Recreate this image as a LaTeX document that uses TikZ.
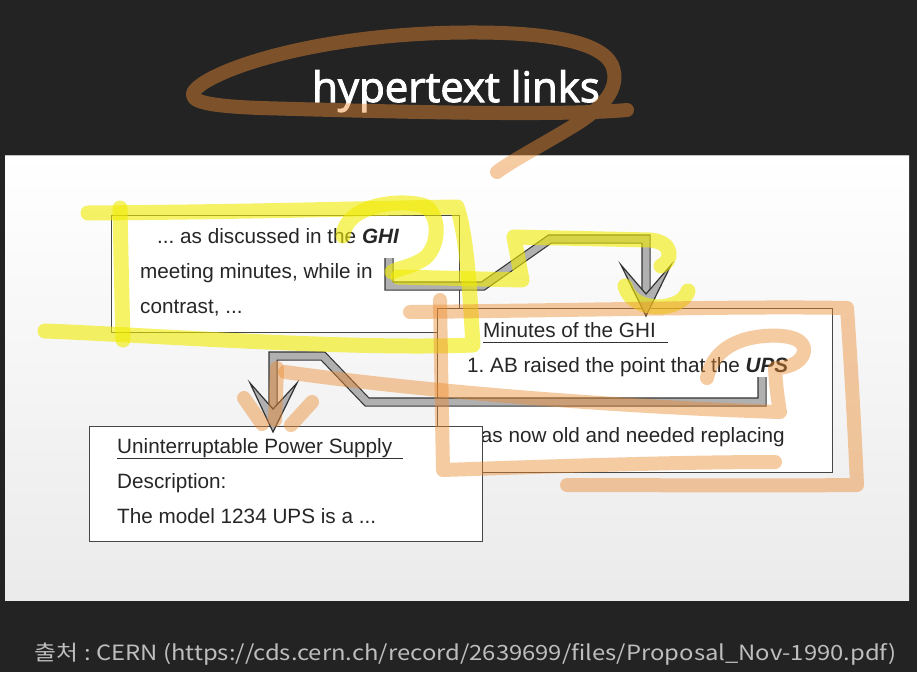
\documentclass[tikz,border=0pt]{standalone}
\usepackage{fontspec}
\usepackage{graphicx}
\setmainfont{Liberation Sans}
\font\titlefont="Open Sans:embolden=2.4" at 42pt
\newfontfamily\footfont{Noto Sans CJK KR}
\definecolor{bgdark}{RGB}{35,35,36}
\definecolor{hly}{RGB}{240,235,0}
\definecolor{hlo}{RGB}{235,140,50}
\definecolor{boxline}{RGB}{70,70,70}
\definecolor{foot}{RGB}{190,190,190}
\tikzset{
  docbox/.style={draw=boxline, line width=0.9pt, fill=white, inner sep=0pt, anchor=north west},
  txt/.style={inner sep=0pt, anchor=base west, text=black!85, font=\fontsize{20.7}{24}\selectfont},
  uline/.style={draw=black!80, line width=0.9pt},
  hatch/.style={draw=black!80, line width=1.2pt, double=gray!62, double distance=7pt, line join=miter},
  headfill/.style={draw=black!80, line width=1.2pt, fill=gray!62, line join=miter},
  hlyel/.style={draw=hly, line width=15pt, line cap=round, line join=round, opacity=0.6},
  hlor/.style={draw=hlo, line width=14pt, line cap=round, line join=round, opacity=0.45}
}
\frenchspacing
\begin{document}
\begin{tikzpicture}[x=1pt,y=-1pt]
\useasboundingbox (0,0) rectangle (917,672);
\fill[bgdark] (0,0) rectangle (917,672);
% panel
\fill[top color=white, bottom color=black!8] (5,155) rectangle (909,600);
\draw[black!25, line width=0.6pt] (5,155) -- (909,155);

% title
\node[inner sep=0pt, anchor=base, text=white, font=\titlefont] (title) at (456,102) {hypertext links};

% box 1
\node[docbox, minimum width=348pt, minimum height=117pt] (box1) at (111,215) {};
\node[txt] (l11) at (157,243) {... as discussed in the \textbf{\textit{GHI}}};
\node[txt] (l12) at (140,278) {meeting minutes, while in};
\node[txt] (l13) at (140,313) {contrast, ...};

% box 2
\node[docbox, minimum width=395pt, minimum height=164pt] (box2) at (437,308) {};
\node[txt] (l21) at (483,337) {Minutes of the GHI};
\draw[uline] (483,342.5) -- (668,342.5);
\node[txt] (l22) at (467,372) {1. AB raised the point that the \textbf{\textit{UPS}}};
\node[txt, anchor=base east] (l23) at (785,442) {was now old and needed replacing};

% box 3
\node[docbox, minimum width=393pt, minimum height=115pt] (box3) at (89,426) {};
\node[txt] (l31) at (117,453) {Uninterruptable Power Supply};
\draw[uline] (117,458.5) -- (403,458.5);
\node[txt] (l32) at (117,488) {Description:};
\node[txt] (l33) at (117,523) {The model 1234 UPS is a ...};

% link arrows
\coordinate (a1s) at (389,258);
\coordinate (a1a) at (389,286);
\coordinate (a1b) at (483,286);
\coordinate (a1c) at (550,239);
\coordinate (a1d) at (646,239);
\coordinate (a1e) at (646,294);
\coordinate (a1t) at (646,316);
\draw[hatch] (a1s) -- (a1a) -- (a1b) -- (a1c) -- (a1d) -- (a1e);
\draw[headfill] (621,265) -- (a1t) -- (671,265) -- (a1e) -- cycle;

\coordinate (a2s) at (762,377);
\coordinate (a2a) at (762,402);
\coordinate (a2b) at (367,402);
\coordinate (a2c) at (323,356);
\coordinate (a2d) at (273,356);
\coordinate (a2e) at (273,409);
\coordinate (a2t) at (273,432);
\draw[hatch] (a2s) -- (a2a) -- (a2b) -- (a2c) -- (a2d) -- (a2e);
\draw[headfill] (250,383) -- (a2t) -- (297,383) -- (a2e) -- cycle;

% yellow highlighter
\draw[hlyel] (88,213) .. controls (250,212) and (380,208) .. (457,207)
  .. controls (468,240) and (470,300) .. (473,345)
  .. controls (350,350) and (150,335) .. (45,331);
\draw[hlyel] (120,208) .. controls (121,260) and (122,300) .. (123,340);
\draw[hlyel] (343,236) .. controls (345,205) and (400,198) .. (425,206)
  .. controls (440,215) and (440,245) .. (425,258)
  .. controls (410,268) and (398,268) .. (392,272);
\draw[hlyel] (398,277) -- (522,280) -- (514,237) -- (650,240)
  .. controls (675,242) and (672,262) .. (661,266);
\draw[hlyel] (688,291) .. controls (682,312) and (632,314) .. (625,286);

% orange highlighter
\draw[hlor] (410,312) .. controls (600,310) and (750,306) .. (847,308)
  .. controls (852,380) and (855,440) .. (857,485)
  .. controls (750,486) and (650,485) .. (567,485);
\draw[hlor] (440,300) .. controls (441,360) and (442,420) .. (443,470)
  .. controls (560,466) and (680,462) .. (775,462);
\draw[hlor] (707,378) .. controls (712,352) and (735,338) .. (765,336)
  .. controls (790,334) and (806,340) .. (804,352)
  .. controls (801,364) and (786,368) .. (775,368)
  .. controls (776,388) and (778,400) .. (780,412)
  .. controls (650,408) and (450,395) .. (285,372);
\draw[hlor] (277,368) -- (275,420);
\draw[hlor] (244,398) -- (262,424);
\draw[hlor] (312,402) -- (291,425);
% title scribble
\draw[hlor] (627,110) .. controls (560,116) and (400,112) .. (260,108)
  .. controls (210,106) and (185,102) .. (195,90)
  .. controls (210,72) and (300,38) .. (440,33)
  .. controls (540,30) and (600,40) .. (612,65)
  .. controls (622,90) and (600,110) .. (570,128)
  .. controls (540,146) and (510,162) .. (497,172);

% footer
\node[inner sep=0pt, anchor=base, text=foot, font=\footfont\fontsize{21}{24}\selectfont] (src) at (466,660)
  {\resizebox{862pt}{\height}{출처 : CERN (https://cds.cern.ch/record/2639699/files/Proposal\_Nov-1990.pdf)}};
\end{tikzpicture}
\end{document}
